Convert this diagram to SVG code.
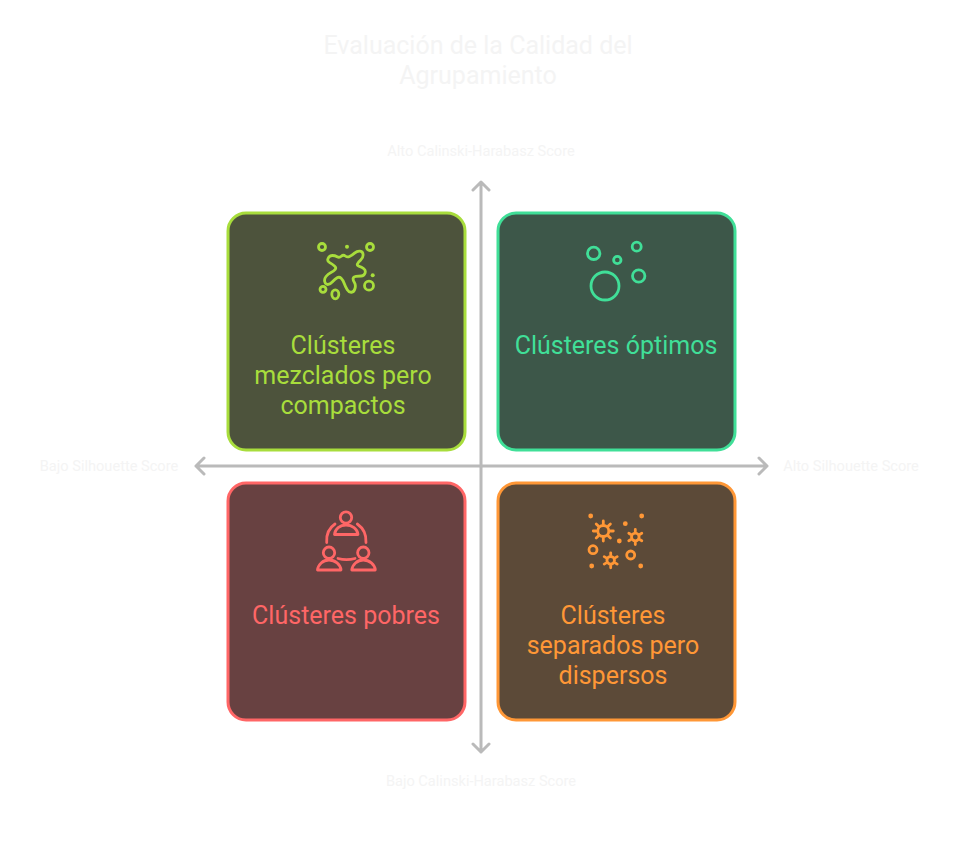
<svg xmlns="http://www.w3.org/2000/svg" width="963" height="858" viewBox="0 0 963 858">
<style>
text{font-family:Roboto,"Noto Sans",sans-serif;text-anchor:middle}
.t{font-size:25px}
.a{font-size:14.6px;fill:#f4f4f4}
.h{font-size:25px;fill:#f4f4f4}
.c{stroke-width:3}
.i{fill:none;stroke-width:2.8;stroke-linecap:round;stroke-linejoin:round}
.ax{fill:none;stroke:#bababa;stroke-width:3;stroke-linecap:round;stroke-linejoin:round}
.lime{stroke:#a8dd3c}.limef{fill:#a8dd3c}
.green{stroke:#40df98}.greenf{fill:#40df98}
.red{stroke:#ff6666}.redf{fill:#ff6666}
.org{stroke:#ff9736}.orgf{fill:#ff9736}
</style>
<rect width="963" height="858" fill="#fff"/>
<g id="title"><text class="h" x="478" y="54">Evaluación de la Calidad del</text><text class="h" x="478" y="84">Agrupamiento</text></g>
<g id="connectors">
<path class="ax" d="M481 466V182M473 190L481 182L489 190"/>
<path class="ax" d="M481 466V752M473 744L481 752L489 744"/>
<path class="ax" d="M481 466H196M204 458L196 466L204 474"/>
<path class="ax" d="M481 466H767M759 458L767 466L759 474"/>
</g>
<g id="axis-labels">
<text class="a" x="481" y="156">Alto Calinski-Harabasz Score</text>
<text class="a" x="481" y="786">Bajo Calinski-Harabasz Score</text>
<text class="a" x="109" y="471">Bajo Silhouette Score</text>
<text class="a" x="851" y="471">Alto Silhouette Score</text>
</g>
<g id="node-mezclados">
<rect class="c lime" x="228" y="213" width="237" height="237" rx="18" fill="#4d533c"/>
<g class="i lime">
<path d="M328.15 258.25Q329.5 255.5 332.25 255.5Q335 255.5 337.15 256.75Q339.3 258 341.3 256.25Q343.3 254.5 345.3 256Q347.3 257.5 349.5 256.5Q351.7 255.5 354.5 253.1Q357.3 250.7 360.15 251.1Q363 251.5 363.1 254.75Q363.2 258 360.6 260.15Q358 262.3 357.4 264Q356.8 265.7 359.25 266.35Q361.7 267 363.85 268.75Q366 270.5 365 273.25Q364 276 361.15 276Q358.3 276 355.9 276.35Q353.5 276.7 353.15 278.35Q352.8 280 354.4 282.5Q356 285 355 288.5Q354 292 351.5 292.25Q349 292.5 347.25 289.75Q345.5 287 344.25 283.5Q343 280 341.15 278.25Q339.3 276.5 337.15 277.75Q335 279 332.5 281.75Q330 284.5 327.75 284.5Q325.5 284.5 324.75 281.75Q324 279 326 276.5Q328 274 331 272.5Q334 271 335.25 269.35Q336.5 267.7 334.5 266Q332.5 264.3 329.65 262.65Q326.8 261 328.15 258.25Z"/>
<circle cx="322" cy="247" r="3.5"/><circle cx="370" cy="247" r="3.5"/><circle cx="323" cy="289.3" r="3"/>
<ellipse cx="335.3" cy="294.3" rx="3.5" ry="4.5"/><circle cx="369" cy="285.7" r="4.5"/>
</g>
<circle class="limef" cx="347" cy="246.7" r="2"/><circle class="limef" cx="372.7" cy="275.3" r="2"/>
<text class="t limef" x="343" y="354">Clústeres</text><text class="t limef" x="343" y="384">mezclados pero</text><text class="t limef" x="343" y="414">compactos</text>
</g>
<g id="node-optimos">
<rect class="c green" x="498" y="213" width="237" height="237" rx="18" fill="#3d5749"/>
<g class="i green">
<circle cx="593.7" cy="253.3" r="6.2"/><circle cx="617.3" cy="260" r="3.7"/><circle cx="636.7" cy="246.7" r="4.5"/><circle cx="638.7" cy="276" r="6.2"/><circle cx="605" cy="286" r="14"/>
</g>
<text class="t greenf" x="616" y="354">Clústeres óptimos</text>
</g>
<g id="node-pobres">
<rect class="c red" x="228" y="483" width="237" height="237" rx="18" fill="#684141"/>
<g class="i red">
<circle cx="346" cy="517.5" r="5.7"/><path d="M334.5 534.5C335 529 340 525 346 525S357.5 529 358 534.5Z"/>
<circle cx="329" cy="552.7" r="5.7"/><path d="M317.5 570C318 564.5 323 560 329 560S340.5 564.5 341 570Z"/>
<circle cx="363.3" cy="552.7" r="5.7"/><path d="M351.8 570C352.3 564.5 357.3 560 363.3 560S374.8 564.5 375.3 570Z"/>
<path d="M326.7 542.5C326 534 329 528 335 524M357.3 524C363 528 366.5 534 366 542.5M338 558.5C344 560.2 349 560.2 355 558.5"/>
</g>
<text class="t redf" x="346" y="624">Clústeres pobres</text>
</g>
<g id="node-dispersos">
<rect class="c org" x="498" y="483" width="237" height="237" rx="18" fill="#5c4a38"/>
<g class="i org">
<circle cx="603.3" cy="531" r="5.5"/>
<path d="M603.3 521V524M603.3 538V541M593.3 531H596.3M610.3 531H613.3M596.2 523.9L598.3 526M608.3 536L610.4 538.1M596.2 538.1L598.3 536M608.3 526L610.4 523.9"/>
<circle cx="635.3" cy="537" r="3.8"/>
<path d="M635.3 529.5V531.5M635.3 542.5V544.5M628.8 533.3L630.5 534.3M640.1 539.8L641.8 540.8M628.8 540.8L630.5 539.8M640.1 534.3L641.8 533.3"/>
<circle cx="610.7" cy="560.3" r="3.8"/>
<path d="M610.7 552.8V554.8M610.7 565.8V567.8M604.2 556.6L605.9 557.6M615.5 563.1L617.2 564.1M604.2 564.1L605.9 563.1M615.5 557.6L617.2 556.6"/>
<circle cx="593" cy="549.7" r="4"/><circle cx="630.7" cy="555" r="4"/>
</g>
<g class="orgf"><circle cx="590.7" cy="516" r="2.4"/><circle cx="641.7" cy="516" r="2.4"/><circle cx="625.3" cy="523.7" r="2.4"/><circle cx="619.3" cy="541" r="2.4"/><circle cx="591.7" cy="566" r="2.4"/><circle cx="640.7" cy="566" r="2.4"/></g>
<text class="t orgf" x="613" y="624">Clústeres</text><text class="t orgf" x="613" y="654">separados pero</text><text class="t orgf" x="613" y="684">dispersos</text>
</g>
</svg>
